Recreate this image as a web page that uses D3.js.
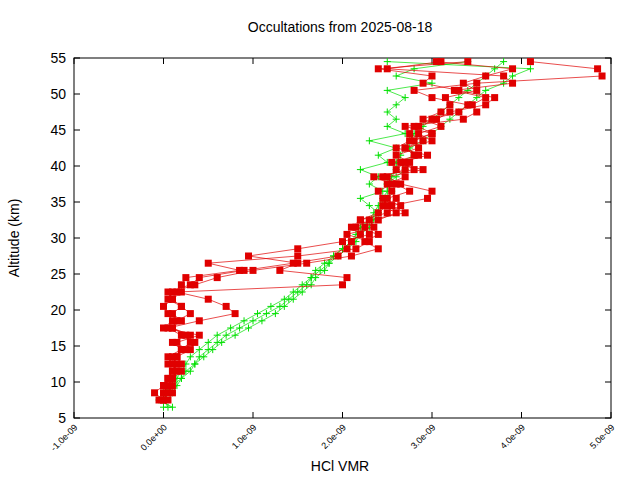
<!DOCTYPE html>
<html><head><meta charset="utf-8">
<script src="https://cdn.jsdelivr.net/npm/d3@7"></script>
<style>body{margin:0;background:#fff}text{font-family:"Liberation Sans",Arial,sans-serif}</style>
</head><body><svg id="c" width="640" height="480"></svg>
<script>
const xTicks=[-1e-9,0,1e-9,2e-9,3e-9,4e-9,5e-9];
const xTickLabels=["-1.0e-09","0.0e+00","1.0e-09","2.0e-09","3.0e-09","4.0e-09","5.0e-09"];
const yTicks=[5,10,15,20,25,30,35,40,45,50,55];
// profiles: altitude (km), HCl VMR (units 1e-9)
const alt=[7.5,8.5,9.5,10.5,11.5,12.5,13.5,14.5,15.5,16.5,17.5,18.5,19.5,20.5,21.5,22.5,23.5,24.5,25.5,26.5,27.5,28.5,29.5,30.5,31.5,32.5,33.5,34.5,35.5,36.5,37.5,38.5,39.5,40.5,41.5,42.5,43.5,44.5,45.5,46.5,47.5,48.5,49.5,50.5,51.5,52.5,53.5,54.5];
const redA=[-0.05,0.05,0.1,0.1,0.15,0.1,0.15,0.2,0.3,0.3,0.1,0.2,0.1,0.2,0.1,0.05,0.3,0.4,0.9,1.45,1.95,2.05,2.1,2.2,2.1,2.2,2.4,2.5,2.6,2.55,2.5,2.7,2.6,2.7,2.8,2.7,2.9,2.75,2.8,3.0,3.3,3.4,3.0,2.8,3.5,4.9,4.85,4.1];
const redB=[0.0,-0.1,0.0,0.05,0.1,0.2,0.15,0.3,0.35,0.2,0.05,0.4,0.8,0.7,0.5,0.15,2.0,2.05,1.3,1.5,0.95,1.5,2.0,2.3,2.25,2.4,2.6,2.45,2.5,2.75,2.6,2.45,2.7,2.75,2.6,2.85,2.8,3.0,2.85,3.05,3.2,3.6,3.7,3.3,2.9,3.0,2.4,3.4];
const redC=[0.05,0.1,0.0,0.1,0.2,0.05,0.1,0.25,0.15,0.4,0.0,0.1,0.05,0.0,0.1,0.2,0.2,0.25,0.85,0.5,1.5,2.15,2.3,2.05,2.35,2.2,2.5,2.65,2.45,2.4,2.55,2.35,2.8,2.65,2.95,2.6,2.75,3.0,2.7,3.35,3.5,3.45,3.6,3.25,3.9,3.8,2.5,3.1];
const redD=[0.0,0.0,0.05,0.05,0.1,0.15,0.05,0.2,0.1,0.25,0.1,0.15,0.3,0.2,0.05,0.1,0.35,0.6,1.0,1.6,2.1,2.4,2.25,2.4,2.15,2.3,2.7,2.55,2.95,3.0,2.65,2.5,2.9,2.55,2.85,2.7,3.0,2.85,3.1,2.9,3.1,3.2,3.15,3.5,3.35,3.6,3.9,3.05];
const greenAlt=[6.5,7.5,8.5,9.5,10.5,11.5,12.5,13.5,14.5,15.5,16.5,17.5,18.5,19.5,20.5,21.5,22.5,23.5,24.5,25.5,26.5,27.5,28.5,29.5,30.5,31.5,32.5,33.5,34.5,35.5,36.5,37.5,38.5,39.5,40.5,41.5,42.5,43.5,44.5,45.5,46.5,47.5,48.5,49.5,50.5,51.5,52.5,53.5,54.5];
const greenA=[0.0,0.0,0.05,0.1,0.15,0.2,0.25,0.3,0.4,0.5,0.6,0.75,0.9,1.05,1.2,1.35,1.45,1.55,1.65,1.7,1.8,1.9,2.0,2.1,2.15,2.2,2.3,2.35,2.4,2.45,2.5,2.5,2.55,2.6,2.6,2.65,2.7,2.75,2.8,2.9,3.0,3.1,3.2,3.3,3.4,3.5,3.6,3.7,3.8];
const greenB=[0.1,-0.05,0.1,0.15,0.2,0.3,0.35,0.45,0.55,0.65,0.8,0.95,1.1,1.25,1.35,1.45,1.55,1.65,1.7,1.8,1.85,1.95,2.05,2.15,2.2,2.3,2.35,2.4,2.3,2.2,2.45,2.3,2.4,2.2,2.5,2.4,2.6,2.3,2.7,2.5,2.6,2.5,2.6,2.7,2.5,3.0,2.6,2.8,3.4];
const greenC=[0.05,0.0,0.0,0.1,0.2,0.25,0.35,0.4,0.5,0.6,0.7,0.85,1.0,1.15,1.3,1.4,1.5,1.6,1.65,1.75,1.85,1.9,2.0,2.1,2.2,2.25,2.3,2.4,2.45,2.5,2.55,2.5,2.6,2.7,2.65,2.8,2.75,2.9,3.0,3.1,3.2,3.3,3.4,3.5,3.6,3.8,3.9,4.1,2.5];
const svg=d3.select("#c");
const m={l:74,r:611,t:58,b:418};
const x=d3.scaleLinear().domain([-1e-9,5e-9]).range([m.l,m.r]);
const y=d3.scaleLinear().domain([5,55]).range([m.b,m.t]);
const g=svg.append("g");
g.append("rect").attr("x",m.l).attr("y",m.t).attr("width",m.r-m.l).attr("height",m.b-m.t).attr("fill","none").attr("stroke","#000");
yTicks.forEach(t=>{
 g.append("line").attr("x1",m.l).attr("x2",m.l+6).attr("y1",y(t)).attr("y2",y(t)).attr("stroke","#000");
 g.append("line").attr("x1",m.r).attr("x2",m.r-6).attr("y1",y(t)).attr("y2",y(t)).attr("stroke","#000");
 g.append("text").attr("x",m.l-8).attr("y",y(t)+5).attr("text-anchor","end").attr("font-size",14).text(t);
});
xTicks.forEach((t,i)=>{
 g.append("line").attr("x1",x(t)).attr("x2",x(t)).attr("y1",m.b).attr("y2",m.b-6).attr("stroke","#000");
 g.append("line").attr("x1",x(t)).attr("x2",x(t)).attr("y1",m.t).attr("y2",m.t+6).attr("stroke","#000");
 g.append("text").attr("transform",`translate(${x(t)+4},${m.b+10}) rotate(-45)`).attr("text-anchor","end").attr("font-size",9).text(xTickLabels[i]);
});
svg.append("text").attr("x",340).attr("y",32).attr("text-anchor","middle").attr("font-size",14).text("Occultations from 2025-08-18");
svg.append("text").attr("x",340).attr("y",471).attr("text-anchor","middle").attr("font-size",14).text("HCl VMR");
svg.append("text").attr("transform","translate(19,238) rotate(-90)").attr("text-anchor","middle").attr("font-size",14).text("Altitude (km)");
const line=d3.line().x(d=>x(d[1]*1e-9)).y(d=>y(d[0]));
const pl=svg.append("g");
function drawGreen(vals){
 const d=greenAlt.map((a,i)=>[a,vals[i]]);
 pl.append("path").attr("d",line(d)).attr("fill","none").attr("stroke","#00e000").attr("stroke-width",0.7);
 d.forEach(p=>{const cx=x(p[1]*1e-9),cy=y(p[0]);
  pl.append("path").attr("d",`M${cx-3.5},${cy}H${cx+3.5}M${cx},${cy-3.5}V${cy+3.5}`).attr("stroke","#00e000").attr("stroke-width",1);});
}
function drawRed(vals){
 const d=alt.map((a,i)=>[a,vals[i]]);
 pl.append("path").attr("d",line(d)).attr("fill","none").attr("stroke","#e00000").attr("stroke-width",0.7);
 pl.selectAll(null).data(d).enter().append("rect").attr("x",p=>x(p[1]*1e-9)-3.5).attr("y",p=>y(p[0])-3.5).attr("width",7).attr("height",7).attr("fill","#e00000");
}
[greenA,greenB,greenC].forEach(drawGreen);
[redA,redB,redC,redD].forEach(drawRed);
</script></body></html>
